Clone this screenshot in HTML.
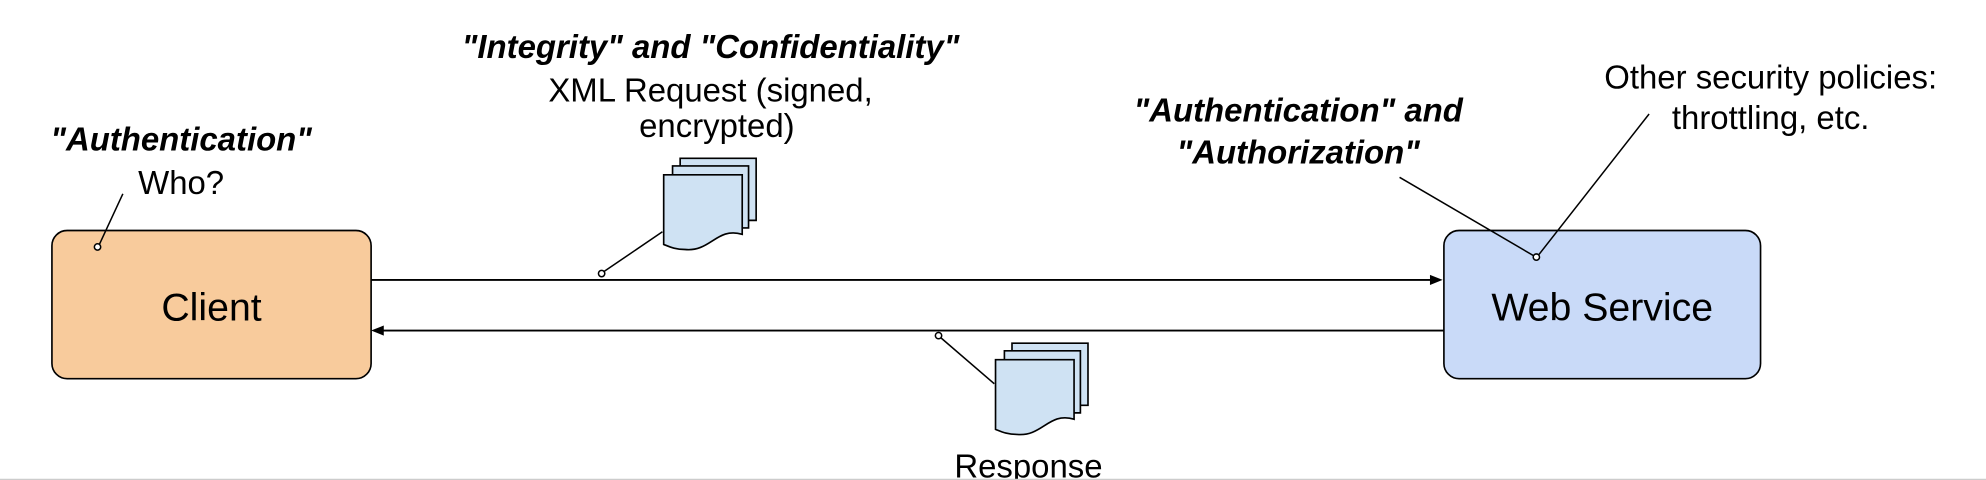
<!DOCTYPE html>
<html><head><meta charset="utf-8"><style>html,body{margin:0;padding:0;background:#fff;overflow:hidden}svg{display:block}</style></head>
<body>
<svg width="1986" height="480" viewBox="0 0 1568 379" preserveAspectRatio="none" xmlns="http://www.w3.org/2000/svg" font-family="Liberation Sans, Arial, sans-serif">
<defs>
<g id="doc">
<path d="M13,-13 h60 v49 h-60 z" fill="#cfe2f3" stroke="#000" stroke-width="1.3"/>
<path d="M7,-7 h60 v49 h-60 z" fill="#cfe2f3" stroke="#000" stroke-width="1.3"/>
<path d="M0,0 h62 v47 c-20,-6 -25,14 -45,12 c-8,0 -12,-2 -17,-4 z" fill="#cfe2f3" stroke="#000" stroke-width="1.3"/>
</g>
</defs>
<rect x="41" y="182" width="252" height="117" rx="12" fill="#f8cb9c" stroke="#000" stroke-width="1.3"/>
<text x="167" y="253" font-size="31" text-anchor="middle">Client</text>
<rect x="1140" y="182" width="250" height="117" rx="12" fill="#c9daf8" stroke="#000" stroke-width="1.3"/>
<text x="1265" y="253" font-size="31" text-anchor="middle">Web Service</text>
<line x1="293" y1="221" x2="1130" y2="221" stroke="#000" stroke-width="1.5"/>
<path d="M1139,221 l-10,-4 v8 z" fill="#000"/>
<line x1="1140" y1="261" x2="302" y2="261" stroke="#000" stroke-width="1.5"/>
<path d="M293,261 l10,-4 v8 z" fill="#000"/>
<g stroke="#000" stroke-width="1.2" fill="#fff">
<line x1="97" y1="153" x2="78" y2="194"/><circle cx="77" cy="195" r="2.5"/>
<line x1="523" y1="183" x2="476" y2="215"/><circle cx="475" cy="216" r="2.5"/>
<line x1="785" y1="303" x2="742" y2="266"/><circle cx="741" cy="265" r="2.5"/>
<line x1="1105" y1="140" x2="1211" y2="202"/>
<line x1="1302" y1="90" x2="1215" y2="201"/><circle cx="1213" cy="203" r="2.5"/>
</g>
<use href="#doc" x="524" y="138"/>
<use href="#doc" x="786" y="284"/>
<g font-size="26" text-anchor="middle">
<text x="143" y="119" font-weight="bold" font-style="italic">"Authentication"</text>
<text x="143" y="153">Who?</text>
<text x="561" y="46" font-weight="bold" font-style="italic">"Integrity" and "Confidentiality"</text>
<text x="561" y="80">XML Request (signed,</text>
<text x="566" y="108">encrypted)</text>
<text x="1025" y="96" font-weight="bold" font-style="italic">"Authentication" and</text>
<text x="1025" y="129" font-weight="bold" font-style="italic">"Authorization"</text>
<text x="1398" y="70">Other security policies:</text>
<text x="1398" y="102">throttling, etc.</text>
<text x="812" y="377">Response</text>
</g>
<rect x="0" y="378" width="1568" height="1" fill="#ccc"/>
</svg>
</body></html>
